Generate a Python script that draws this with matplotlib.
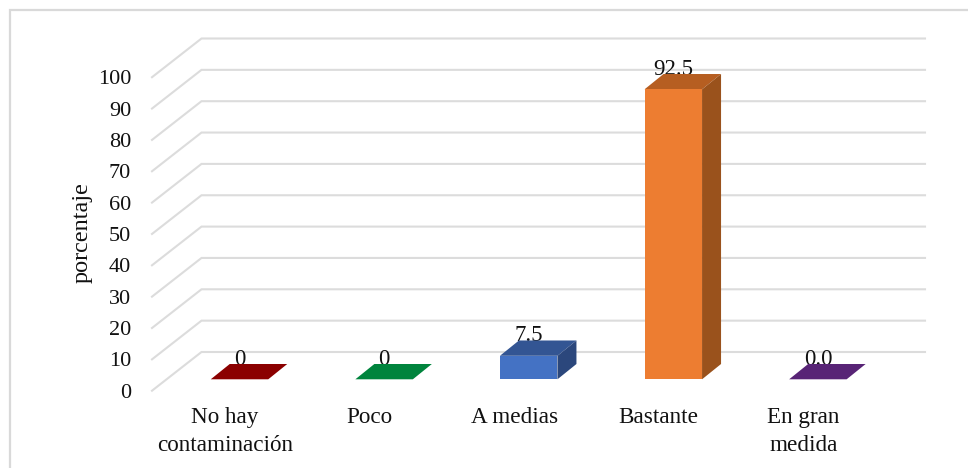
#!/usr/bin/python3
import matplotlib
matplotlib.use('Agg')
import matplotlib.pyplot as plt

categories = ['No hay\ncontaminación', 'Poco', 'A medias', 'Bastante', 'En gran\nmedida']
values = [0, 0, 7.5, 92.5, 0.0]
value_labels = ['0', '0', '7.5', '92.5', '0.0']
y_ticks = [0, 10, 20, 30, 40, 50, 60, 70, 80, 90, 100]
y_label = 'porcentaje'

front_colors = ['#8b0000', '#00843d', '#4472c4', '#ed7d31', '#582476']
top_colors = ['#8b0000', '#00843d', '#335593', '#b65e21', '#582476']
side_colors = ['#8b0000', '#00843d', '#2b477c', '#9a521c', '#582476']

# pixels per unit on each axis, used to lay the 3D look onto flat axes
PX_X = 144.6
PX_Y = 3.135
FIG_W = 968
FIG_H = 468
ZERO_X = 239.5
ZERO_Y = 379.3

BAR_W = 57.5 / PX_X
BAR_DX = 19 / PX_X
BAR_DY = 15.3 / PX_Y

GRID_LEFT = (152 - ZERO_X) / PX_X
GRID_BACK = (201.5 - ZERO_X) / PX_X
GRID_RIGHT = (925 - ZERO_X) / PX_X
FLOOR_FRONT = (379.3 - 390.7) / PX_Y
FLOOR_BACK = (379.3 - 352) / PX_Y


def draw_grid(ax):
	for t in y_ticks:
		ax.plot([GRID_LEFT, GRID_BACK, GRID_RIGHT],
			[t + FLOOR_FRONT, t + FLOOR_BACK, t + FLOOR_BACK],
			color='#dcdcdc', lw=1.5, zorder=1, solid_joinstyle='miter')
		ax.text(GRID_LEFT - 21 / PX_X, t + FLOOR_FRONT - 2.5 / PX_Y, str(t), ha='right', va='center',
			fontsize=16, color='#111111', zorder=5)


def draw_bars(ax):
	for i, v in enumerate(values):
		l = i - BAR_W / 2
		r = i + BAR_W / 2
		ax.text(i, v + 6.4, value_labels[i], ha='center', va='center',
			fontsize=16.5, color='#111111', zorder=2)
		ax.fill([l, r, r + BAR_DX, l + BAR_DX], [v, v, v + BAR_DY, v + BAR_DY],
			color=top_colors[i], lw=0, zorder=3)
		if v > 0:
			ax.fill([r, r + BAR_DX, r + BAR_DX, r], [0, BAR_DY, v + BAR_DY, v],
				color=side_colors[i], lw=0, zorder=3)
			ax.bar(i, v, width=BAR_W, color=front_colors[i], lw=0, zorder=4)


def make_plot():
	fig = plt.figure(figsize=(FIG_W / 100, FIG_H / 100), dpi=100)
	ax = fig.add_axes([0, 0, 1, 1])
	ax.set_xlim(-ZERO_X / PX_X, (FIG_W - ZERO_X) / PX_X)
	ax.set_ylim((ZERO_Y - FIG_H) / PX_Y, ZERO_Y / PX_Y)
	ax.axis('off')

	# chart frame: only the left and top edges are visible
	frame_x = 9.5 / FIG_W
	frame_y = 1 - 9.5 / FIG_H
	fig.add_artist(plt.Line2D([frame_x, frame_x, 1], [0, frame_y, frame_y],
		transform=fig.transFigure, color='#d9d9d9', lw=1.6, solid_joinstyle='miter'))

	draw_grid(ax)
	draw_bars(ax)

	for i, name in enumerate(categories):
		ax.text(i - 14.5 / PX_X, -27.5 / PX_Y, name, ha='center', va='top', fontsize=16.7,
			color='#111111', linespacing=1.45)
	ax.text((82 - ZERO_X) / PX_X, (ZERO_Y - 232.5) / PX_Y, y_label, rotation=90,
		ha='center', va='center', fontsize=17.4, color='#111111')

	fig.savefig('out.png', dpi=100)


if __name__ == '__main__':
	plt.rcParams['font.family'] = ['Liberation Serif', 'DejaVu Serif']
	make_plot()
